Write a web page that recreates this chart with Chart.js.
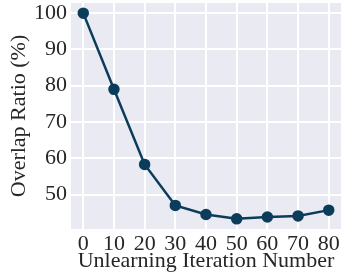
<!DOCTYPE html>
<html>
<head>
<meta charset="utf-8">
<script src="https://cdn.jsdelivr.net/npm/chart.js@4"></script>
<style>
  html, body { margin: 0; padding: 0; background: #fff; }
  #wrap { width: 341px; height: 274px; }
</style>
</head>
<body>
<div id="wrap"><canvas id="grafico" width="341" height="274"></canvas></div>
<script>
let iteraciones = [0, 10, 20, 30, 40, 50, 60, 70, 80];
let overlap = [100, 79.0, 58.3, 47.0, 44.5, 43.3, 43.8, 44.1, 45.7];
let ticksX = [0, 10, 20, 30, 40, 50, 60, 70, 80];
let ticksY = [50, 60, 70, 80, 90, 100];

const fondo = {
  id: 'fondo',
  beforeDraw(chart) {
    const { ctx, chartArea: a } = chart;
    ctx.save();
    ctx.fillStyle = '#EAEAF2';
    ctx.fillRect(a.left, a.top, a.right - a.left, a.bottom - a.top);
    ctx.restore();
  }
};

const serif = "'Liberation Serif', 'DejaVu Serif', serif";
Chart.defaults.font.family = serif;
Chart.defaults.font.size = 22;
Chart.defaults.color = '#262626';

const ctx = document.getElementById('grafico').getContext('2d');
let chart = new Chart(ctx, {
  type: 'line',
  data: {
    datasets: [{
      data: iteraciones.map((x, i) => ({ x: x, y: overlap[i] })),
      borderColor: '#0B3D5B',
      backgroundColor: '#0B3D5B',
      borderWidth: 2.5,
      pointRadius: 4.5,
      pointHoverRadius: 4.5,
      tension: 0,
      clip: false
    }]
  },
  options: {
    responsive: false,
    animation: false,
    layout: { autoPadding: false, padding: { top: 3, right: 0, left: 6, bottom: 0 } },
    plugins: { legend: { display: false }, tooltip: { enabled: false } },
    scales: {
      x: {
        type: 'linear',
        min: -4,
        max: 84,
        afterBuildTicks: s => { s.ticks = ticksX.map(v => ({ value: v })); },
        afterFit: s => { s.height = 45; s.paddingRight = 0; s.paddingLeft = 0; },
        grid: { color: '#ffffff', lineWidth: 2, drawTicks: false },
        border: { display: false },
        ticks: { font: { family: serif, size: 22 }, padding: 2, maxRotation: 0 },
        title: { display: true, text: 'Unlearning Iteration Number', font: { family: serif, size: 22 }, padding: { top: 0, bottom: 0 } }
      },
      y: {
        min: 40.5,
        max: 102.8,
        afterBuildTicks: s => { s.ticks = ticksY.map(v => ({ value: v })); },
        afterFit: s => { s.width = 65; s.paddingTop = 0; s.paddingBottom = 0; },
        grid: { color: '#ffffff', lineWidth: 2, drawTicks: false },
        border: { display: false },
        ticks: { font: { family: serif, size: 22 }, padding: 4 },
        title: { display: true, text: 'Overlap Ratio (%)', font: { family: serif, size: 22 }, padding: { top: 0, bottom: 2 } }
      }
    }
  },
  plugins: [fondo]
});
</script>
</body>
</html>
